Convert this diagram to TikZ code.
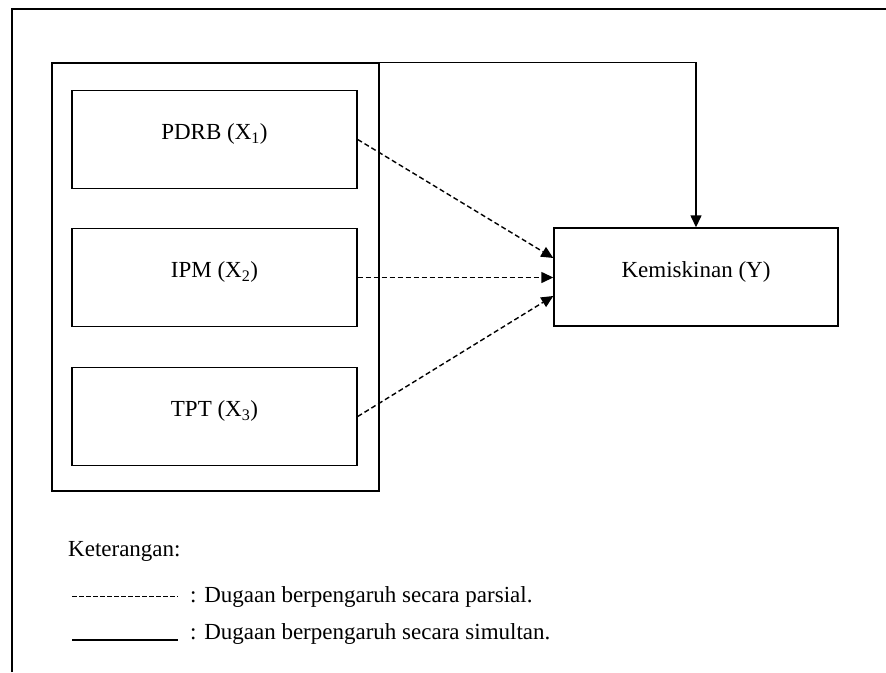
\documentclass[tikz,border=0pt]{standalone}
\usepackage{fontspec}
\setmainfont{Liberation Serif}
\usetikzlibrary{arrows.meta}
\begin{document}
\begin{tikzpicture}[x=1pt,y=-1pt,
  every node/.style={font=\fontsize{23}{27}\selectfont},
  ln/.style={line width=1.4pt},
  box/.style={draw, ln, minimum width=285pt, minimum height=98pt, text height=8pt, text depth=8pt, inner sep=0pt},
  grp/.style={draw, ln, minimum width=327pt, minimum height=428pt, inner sep=0pt},
  dsh/.style={ln, dash pattern=on 5pt off 3pt},
  arr/.style={-{Triangle[length=12pt,width=11pt]}},
  lbl/.style={anchor=base west, inner sep=0pt}
]
\useasboundingbox (0,0) rectangle (886,672);
% outer frame (open on right and bottom)
\draw[ln] (12,672) -- (12,9) -- (886,9);
% group and boxes
\node[grp] (group) at (215.5,277) {};
\node[box] (pdrb) at (214.5,139.5) {PDRB (X\textsubscript{1})};
\node[box] (ipm) at (214.5,277.5) {IPM (X\textsubscript{2})};
\node[box] (tpt) at (214.5,416.5) {TPT (X\textsubscript{3})};
\node[box, minimum width=284pt] (kem) at (696,277) {Kemiskinan (Y)};
% partial (dashed) arrows
\draw[dsh, arr] (pdrb.east) -- ([yshift=19pt]kem.west);
\draw[dsh, arr] (ipm.east) -- (ipm.east -| kem.west);
\draw[dsh, arr] (tpt.east) -- ([yshift=-19pt]kem.west);
% simultaneous (solid) arrow
\draw[ln, arr] (group.north east) -- (group.north east -| kem.north) -- (kem.north);
% legend
\node[lbl] (ket) at (68,556) {Keterangan:};
\coordinate (d1) at (72,596);
\coordinate (d2) at (178,596);
\coordinate (s1) at (72,640);
\coordinate (s2) at (178,640);
\draw[line width=1pt, dash pattern=on 5pt off 2pt] (d1) -- (d2);
\draw[line width=1.1pt] (s1) -- (s2);
\node[lbl] (lp) at (190,602) {: Dugaan berpengaruh secara parsial.};
\node[lbl] (ls) at (190,639) {: Dugaan berpengaruh secara simultan.};
\end{tikzpicture}
\end{document}
